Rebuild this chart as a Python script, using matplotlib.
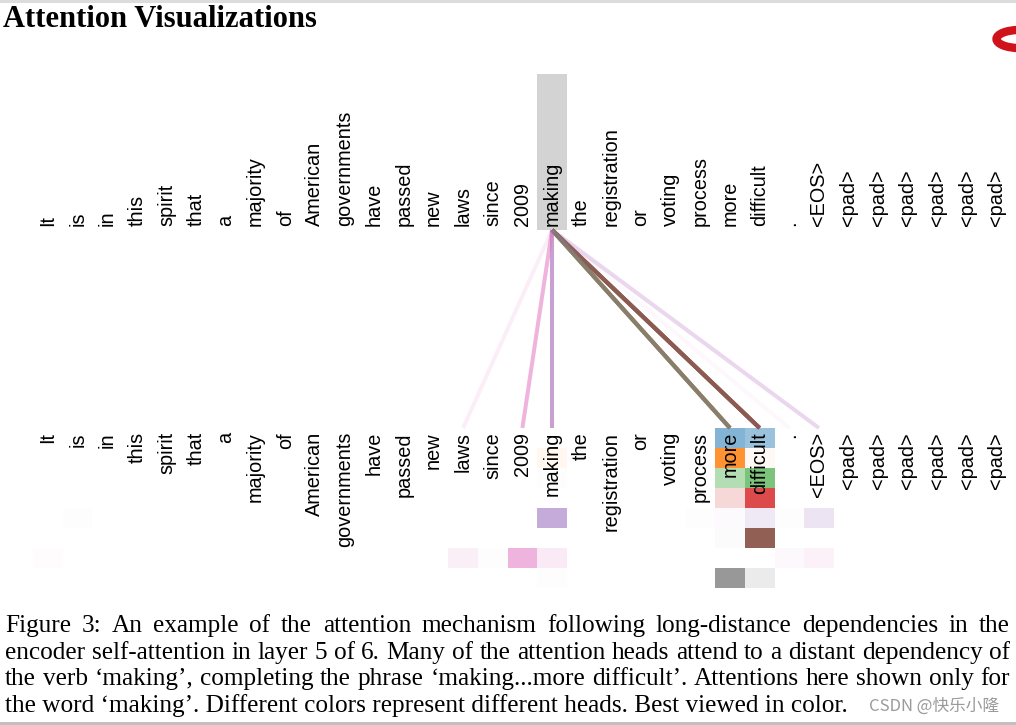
import matplotlib
matplotlib.use("Agg")
import matplotlib.pyplot as plt
import numpy as np
from matplotlib.colors import to_rgb
from matplotlib.patches import Rectangle, Arc

TOKENS = ["It", "is", "in", "this", "spirit", "that", "a", "majority", "of",
          "American", "governments", "have", "passed", "new", "laws", "since",
          "2009", "making", "the", "registration", "or", "voting", "process",
          "more", "difficult", ".", "<EOS>", "<pad>", "<pad>", "<pad>",
          "<pad>", "<pad>", "<pad>"]
QUERY = 17  # 'making'
HEAD_COLORS = ["#1f77b4", "#ff7f0e", "#2ca02c", "#d62728",
               "#9467bd", "#8c564b", "#e377c2", "#7f7f7f"]

# attention of 'making' per head, one row per head, one value per token
#         It    is    in  this spir  that  a    maj   of   Amer  gov  have pass  new  laws since 2009  mak   the  reg   or  vot  proc  more  diff   .   EOS  pad...
ATTN = [
    [0,    0,    0,   0,   0,   0,   0,   0,   0,   0,   0,   0,   0,   0,   0,    0,    0,    0,    0,   0,   0,   0,   0,    0.55, 0.45, 0,    0,    0, 0, 0, 0, 0, 0],
    [0,    0,    0,   0,   0,   0,   0,   0,   0,   0,   0,   0,   0,   0,   0,    0,    0,    0.06, 0,   0,   0,   0,   0,    0.85, 0.04, 0,    0,    0, 0, 0, 0, 0, 0],
    [0,    0,    0,   0,   0,   0,   0,   0,   0,   0,   0,   0,   0,   0,   0,    0,    0,    0.015,0,   0,   0,   0,   0,    0.36, 0.62, 0,    0,    0, 0, 0, 0, 0, 0],
    [0,    0,    0,   0,   0,   0,   0,   0,   0,   0,   0,   0,   0,   0,   0,    0,    0,    0,    0,   0,   0,   0,   0,    0.18, 0.84, 0,    0,    0, 0, 0, 0, 0, 0],
    [0,    0.015,0,   0,   0,   0,   0,   0,   0,   0,   0,   0,   0,   0,   0,    0,    0,    0.55, 0,   0,   0,   0,   0.015,0.03, 0.15, 0.01, 0.18, 0, 0, 0, 0, 0, 0],
    [0,    0,    0,   0,   0,   0,   0,   0,   0,   0,   0,   0,   0,   0,   0,    0,    0,    0,    0,   0,   0,   0,   0,    0.02, 0.95, 0,    0,    0, 0, 0, 0, 0, 0],
    [0.02, 0,    0,   0,   0,   0,   0,   0,   0,   0,   0,   0,   0,   0,   0.12, 0.01, 0.55, 0.15, 0,   0,   0,   0,   0,    0,    0,    0.05, 0.10, 0, 0, 0, 0, 0, 0],
    [0,    0,    0,   0,   0,   0,   0,   0,   0,   0,   0,   0,   0,   0,   0,    0,    0,    0.015,0,   0,   0,   0,   0,    0.80, 0.15, 0,    0,    0, 0, 0, 0, 0, 0],
]

TITLE = "Attention Visualizations"
CAPTION = [
    "Figure 3:  An example of the attention mechanism following long-distance dependencies in the",
    "encoder self-attention in layer 5 of 6. Many of the attention heads attend to a distant dependency of",
    "the verb \u2018making\u2019, completing the phrase \u2018making...more difficult\u2019. Attentions here shown only for",
    "the word \u2018making\u2019. Different colors represent different heads. Best viewed in color.",
]
WATERMARK = "CSDN @\u5feb\u4e50\u5c0f\u9686"

# layout (pixels)
W, H = 1016, 725
X0, PITCH = 48, 29.65          # centre of first token column, column pitch
TOP_BASE, BOT_TOP = 226, 432   # top words end here, bottom words start here
LINE_Y0, LINE_Y1 = 230, 428
CELL_Y0, CELL_H = 428, 20
CAP_X0, CAP_X1, CAP_BASE, CAP_STEP = 5, 1010, 632, 26.6
MIN_LINE = 0.03                # weaker links are not drawn as lines

fig = plt.figure(figsize=(W / 100, H / 100), dpi=100)
pg = fig.add_axes([0, 0, 1, 1])
ax = fig.add_axes([0, 0, 1, 1])

word_kw = dict(rotation=90, ha="center", fontsize=14.3, family="Liberation Sans")

# highlighted query word
ax.add_patch(Rectangle((QUERY - 0.5, 74), 1, LINE_Y0 - 74,
                       facecolor="#d3d3d3", edgecolor="none", zorder=0))

# per-head attention cells under the bottom row
attn = np.array(ATTN, dtype=float)
rgba = np.zeros(attn.shape + (4,))
for h, c in enumerate(HEAD_COLORS):
    rgba[h, :, :3] = to_rgb(c)
    rgba[h, :, 3] = attn[h]
ax.imshow(rgba, extent=(-0.5, len(TOKENS) - 0.5,
                        CELL_Y0 + CELL_H * len(ATTN), CELL_Y0),
          aspect="auto", interpolation="nearest", zorder=1)

# attention lines from the query to each attended word
for h, row in enumerate(attn):
    for j, w in enumerate(row):
        if w >= MIN_LINE:
            ax.plot([QUERY, j], [LINE_Y0, LINE_Y1], color=HEAD_COLORS[h],
                    alpha=w, lw=2.9, solid_capstyle="butt", zorder=2)

for i, tok in enumerate(TOKENS):
    ax.text(i, TOP_BASE, tok, va="bottom", zorder=3, **word_kw)
    ax.text(i, BOT_TOP, tok, va="top", zorder=3, **word_kw)

ax.set_xlim(-X0 / PITCH, (W - X0) / PITCH)
ax.set_ylim(H, 0)
ax.axis("off")

# page furniture
pg.set_xlim(0, W)
pg.set_ylim(H, 0)
pg.axis("off")
pg.add_patch(Rectangle((0, 0), W, 3, facecolor="#dcdcdc", edgecolor="none"))
pg.add_patch(Rectangle((0, 722), W, 3, facecolor="#c0c0c0", edgecolor="none"))
pg.add_patch(Arc((1019, 39), 45, 18, theta1=90, theta2=270, lw=6,
                 color="#d0121b"))
pg.text(3, 27, TITLE, fontsize=22, fontweight="bold",
        family="Liberation Serif", va="baseline")

cap_kw = dict(fontsize=18.2, family="Liberation Serif", va="baseline")
renderer = fig.canvas.get_renderer()
for k, line in enumerate(CAPTION):
    y = CAP_BASE + k * CAP_STEP
    if k == len(CAPTION) - 1:
        pg.text(CAP_X0, y, line, **cap_kw)
        continue
    # justify: spread the words over the full width
    words = line.split()
    texts = [pg.text(0, y, wd, **cap_kw) for wd in words]
    widths = [t.get_window_extent(renderer).width for t in texts]
    gap = (CAP_X1 - CAP_X0 - sum(widths)) / (len(words) - 1)
    x = CAP_X0
    for t, wd in zip(texts, widths):
        t.set_x(x)
        x += wd + gap

pg.text(999, 706, WATERMARK, ha="right", va="center", fontsize=12,
        color="#9a9a9a", family=["Noto Sans CJK SC", "DejaVu Sans"])

fig.savefig("out.png", dpi=100)
